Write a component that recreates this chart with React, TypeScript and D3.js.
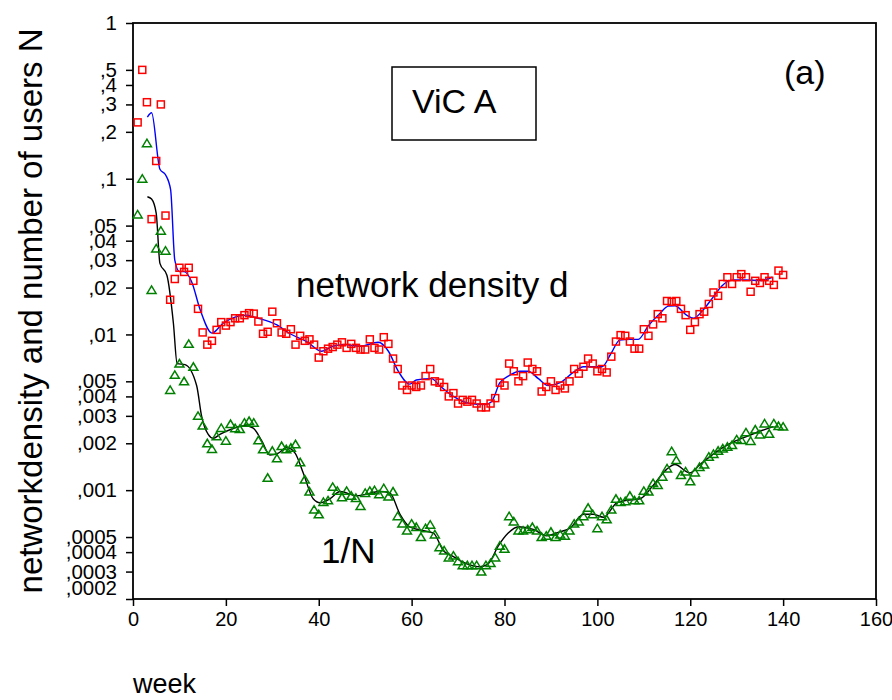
import React, { useEffect, useRef } from 'react';
import * as d3 from 'd3';

// weekly network density d (red squares), weeks 1..140
const densityD: number[] = [
  0.23, 0.5, 0.31, 0.055, 0.13, 0.3, 0.058, 0.0167, 0.0227, 0.0268,
  0.0252, 0.0268, 0.0221, 0.0146, 0.0103, 0.0086, 0.0091, 0.0107, 0.012, 0.0114,
  0.012, 0.0127, 0.0127, 0.0133, 0.0137, 0.0136, 0.0121, 0.0101, 0.0104, 0.014,
  0.0118, 0.0103, 0.0101, 0.0108, 0.0086, 0.0098, 0.0091, 0.0093, 0.0086, 0.0071,
  0.0078, 0.0081, 0.0083, 0.0086, 0.0089, 0.0082, 0.0087, 0.0082, 0.008, 0.008,
  0.0093, 0.0082, 0.008, 0.0096, 0.0087, 0.007, 0.006, 0.0047, 0.0044, 0.0047,
  0.0046, 0.0047, 0.0054, 0.006, 0.005, 0.0049, 0.0046, 0.004, 0.0042, 0.0036,
  0.0038, 0.0037, 0.0038, 0.0036, 0.0034, 0.0034, 0.0036, 0.0039, 0.0049, 0.0047,
  0.0065, 0.0058, 0.005, 0.0054, 0.0066, 0.006, 0.0058, 0.0043, 0.0046, 0.005,
  0.0044, 0.0047, 0.0045, 0.005, 0.006, 0.0056, 0.0062, 0.007, 0.0065, 0.0058,
  0.006, 0.0057, 0.0072, 0.009, 0.0099, 0.0098, 0.009, 0.0081, 0.0081, 0.0108,
  0.0098, 0.0116, 0.0135, 0.0127, 0.0164, 0.0162, 0.0164, 0.0146, 0.0133, 0.0107,
  0.012, 0.0135, 0.014, 0.0157, 0.0186, 0.0177, 0.0211, 0.0233, 0.0211, 0.0233,
  0.0244, 0.0233, 0.0188, 0.0221, 0.0214, 0.0233, 0.0221, 0.0208, 0.0257, 0.0241,
];

// weekly 1/N (green triangles), weeks 1..140
const inverseN: number[] = [
  0.059, 0.1, 0.169, 0.0193, 0.0357, 0.0464, 0.0345, 0.0044, 0.0055, 0.0065,
  0.005, 0.0087, 0.0062, 0.003, 0.0026, 0.002, 0.00184, 0.00222, 0.00251, 0.00208,
  0.00266, 0.0025, 0.00247, 0.00271, 0.00278, 0.00271, 0.00209, 0.00183, 0.0012, 0.00179,
  0.0016, 0.00192, 0.00183, 0.00187, 0.00197, 0.00151, 0.00117, 0.00098, 0.00075, 0.0007,
  0.00084, 0.00086, 0.00105, 0.00099, 0.0009, 0.00099, 0.00092, 0.00089, 0.00079, 0.00096,
  0.00099, 0.001, 0.00094, 0.00103, 0.00091, 0.00098, 0.00068, 0.00061, 0.00055, 0.00061,
  0.00058, 0.0005, 0.00057, 0.0006, 0.00052, 0.00043, 0.00041, 0.00037, 0.00038, 0.00035,
  0.00033, 0.00033, 0.00033, 0.00033, 0.0003, 0.00033, 0.00034, 0.00037, 0.00044, 0.00042,
  0.00068, 0.00063, 0.00055, 0.00055, 0.00056, 0.00058, 0.00055, 0.0005, 0.00051, 0.00054,
  0.0005, 0.00052, 0.00051, 0.00055, 0.00061, 0.00063, 0.00068, 0.00077, 0.0007, 0.00057,
  0.00068, 0.00065, 0.00075, 0.00088, 0.00084, 0.00085, 0.00092, 0.00086, 0.00086, 0.00099,
  0.00098, 0.00111, 0.00108, 0.00122, 0.00138, 0.00178, 0.00156, 0.00125, 0.00132, 0.00114,
  0.0013, 0.00141, 0.00146, 0.00164, 0.00171, 0.00179, 0.00185, 0.0019, 0.00195, 0.00212,
  0.0021, 0.00235, 0.00207, 0.00245, 0.00228, 0.00268, 0.0023, 0.00268, 0.00258, 0.00256,
];

// smoothed density (blue line)
const smoothDWeeks: number[] = [
  3.1, 4, 5.8, 7, 8.1, 9, 10, 11, 12.6, 14.5, 17, 19.4, 24.5, 26.6, 31, 33.8, 37.4, 40.6, 43, 45.3,
  49, 52.8, 55, 57, 59.6, 61, 64.3, 66, 69, 72.6, 75.8, 77.2, 79, 80.8, 83.3, 85.1, 87.3, 89.4, 92,
  94.8, 97, 101, 103, 104.8, 107, 108.8, 111, 113.5, 115.3, 116.7, 119.2, 120.7, 122.8, 125, 126.8,
  129.3, 132, 135, 137.7,
];
const smoothD: number[] = [
  0.249, 0.265, 0.115, 0.106, 0.085, 0.03, 0.0253, 0.0253, 0.0219, 0.0143, 0.0102, 0.0118, 0.0133,
  0.0128, 0.0115, 0.0101, 0.009, 0.0078, 0.0084, 0.0086, 0.0084, 0.0089, 0.0078, 0.0059, 0.0048,
  0.0051, 0.0052, 0.0047, 0.004, 0.0036, 0.00355, 0.0037, 0.0049, 0.0054, 0.0058, 0.0058, 0.0052,
  0.0047, 0.0049, 0.0057, 0.0062, 0.0062, 0.0076, 0.0092, 0.0093, 0.0093, 0.0114, 0.0137, 0.0152,
  0.0153, 0.0133, 0.0127, 0.0144, 0.0175, 0.0205, 0.0224, 0.0224, 0.0222, 0.0233,
];

// smoothed 1/N (black line)
const smoothNWeeks: number[] = [
  3.1, 4, 5, 5.8, 7.3, 8.7, 9.5, 11.2, 13.7, 14.8, 16.2, 17.3, 18.7, 21.6, 24.1, 25.9, 27.7, 29.5,
  31.3, 33.1, 34.9, 36.7, 38.8, 40.3, 42.4, 44.6, 48.2, 53.2, 55.3, 57.5, 59.6, 61.8, 64.7, 66.8, 69,
  71.9, 74.7, 76.5, 78.7, 80.8, 83, 86.2, 89.1, 91.9, 94.1, 97, 99.1, 101.3, 104.2, 106.3, 109.2, 112,
  114.9, 116.7, 119.9, 122.1, 125, 128.6, 132.1, 135, 137.9,
];
const smoothN: number[] = [
  0.0766, 0.074, 0.06, 0.0286, 0.024, 0.0118, 0.0065, 0.0064, 0.0047, 0.00296, 0.00228, 0.00215,
  0.00228, 0.00249, 0.00259, 0.0025, 0.00208, 0.00168, 0.00173, 0.00188, 0.00173, 0.00128, 0.00088,
  0.00083, 0.00088, 0.00098, 0.00092, 0.00098, 0.00096, 0.0007, 0.00058, 0.000555, 0.00053, 0.00041,
  0.000374, 0.000336, 0.000322, 0.000337, 0.00044, 0.00053, 0.000582, 0.00056, 0.00051, 0.00054,
  0.00057, 0.0007, 0.0007, 0.00067, 0.00083, 0.00086, 0.00088, 0.00107, 0.00136, 0.00146, 0.00129,
  0.00146, 0.00171, 0.002, 0.00221, 0.00239, 0.00256,
];

const yTicks: number[] = [
  1, 0.5, 0.4, 0.3, 0.2, 0.1, 0.05, 0.04, 0.03, 0.02, 0.01, 0.005, 0.004, 0.003, 0.002,
  0.001, 0.0005, 0.0004, 0.0003, 0.0002,
];
const xTicks: number[] = [0, 20, 40, 60, 80, 100, 120, 140, 160];

const FONT = '"Liberation Sans", Arial, Helvetica, sans-serif';

const App = () => {
  const svgRef = useRef<SVGSVGElement>(null);
  const width = 892;
  const height = 700;

  useEffect(() => {
    const svg = d3.select(svgRef.current);
    svg.selectAll('*').remove();

    const left = 133, right = 876, top = 23, bottom = 599;

    const x = d3.scaleLinear().domain([0, 160]).range([left, right]);
    const y = d3.scaleLog().domain([0.0002, 1]).range([bottom, top]);

    svg.append('rect')
      .attr('width', width).attr('height', height).attr('fill', '#fff');

    // y axis
    const yAxis = svg.append('g')
      .attr('transform', `translate(${left},0)`)
      .call(d3.axisLeft(y)
        .tickValues(yTicks)
        .tickSize(7)
        .tickPadding(9)
        .tickFormat(d => (+d === 1 ? '1' : String(d).replace('0.', ','))));
    yAxis.select('.domain').remove();
    yAxis.selectAll('line').attr('stroke', '#000').attr('stroke-width', 1.5);
    yAxis.selectAll('text')
      .attr('font-family', FONT).attr('font-size', 20.5).attr('fill', '#000')
      .attr('dy', (d: any) => (d === 0.0002 ? '-0.22em' : '0.32em'));

    // x axis
    const xAxis = svg.append('g')
      .attr('transform', `translate(0,${bottom})`)
      .call(d3.axisBottom(x).tickValues(xTicks).tickSize(7).tickPadding(6).tickFormat(d3.format('d')));
    xAxis.select('.domain').remove();
    xAxis.selectAll('line').attr('stroke', '#000').attr('stroke-width', 1.5);
    xAxis.selectAll('text')
      .attr('font-family', FONT).attr('font-size', 20).attr('fill', '#000');

    // frame
    svg.append('rect')
      .attr('x', left).attr('y', top)
      .attr('width', right - left).attr('height', bottom - top)
      .attr('fill', 'none').attr('stroke', '#000').attr('stroke-width', 1.8);

    // smoothed lines
    const lineN = d3.line<number>()
      .x((_, i) => x(smoothNWeeks[i]))
      .y(d => y(d))
      .curve(d3.curveMonotoneX);
    svg.append('path')
      .datum(smoothN)
      .attr('fill', 'none').attr('stroke', '#000').attr('stroke-width', 1.4)
      .attr('d', lineN);

    const lineD = d3.line<number>()
      .x((_, i) => x(smoothDWeeks[i]))
      .y(d => y(d))
      .curve(d3.curveMonotoneX);
    svg.append('path')
      .datum(smoothD)
      .attr('fill', 'none').attr('stroke', '#0000ff').attr('stroke-width', 1.4)
      .attr('d', lineD);

    // triangles for 1/N
    svg.append('g')
      .selectAll('path')
      .data(inverseN)
      .join('path')
      .attr('d', (d, i) => {
        const cx = x(i + 1), cy = y(d);
        return `M${cx - 4.5},${cy + 3.5}L${cx + 4.5},${cy + 3.5}L${cx},${cy - 4}Z`;
      })
      .attr('fill', 'none').attr('stroke', '#008000').attr('stroke-width', 1.5);

    // squares for density
    svg.append('g')
      .selectAll('rect')
      .data(densityD)
      .join('rect')
      .attr('x', (_, i) => x(i + 1) - 3.5)
      .attr('y', d => y(d) - 3.5)
      .attr('width', 7).attr('height', 7)
      .attr('fill', 'none').attr('stroke', '#ff0000').attr('stroke-width', 1.5);

    // annotations
    svg.append('rect')
      .attr('x', 392).attr('y', 67).attr('width', 144).attr('height', 73)
      .attr('fill', '#fff').attr('stroke', '#000').attr('stroke-width', 1.5);
    svg.append('text')
      .attr('x', 412).attr('y', 113)
      .attr('font-family', FONT).attr('font-size', 34)
      .text('ViC A');

    svg.append('text')
      .attr('x', 784).attr('y', 84)
      .attr('font-family', FONT).attr('font-size', 34)
      .text('(a)');

    svg.append('text')
      .attr('x', 296).attr('y', 297)
      .attr('font-family', FONT).attr('font-size', 35)
      .text('network density d');

    svg.append('text')
      .attr('x', 321).attr('y', 563)
      .attr('font-family', FONT).attr('font-size', 35)
      .text('1/N');

    // axis titles
    svg.append('text')
      .attr('x', 133).attr('y', 693)
      .attr('font-family', FONT).attr('font-size', 27)
      .text('week');

    svg.append('text')
      .attr('transform', `translate(42,${(top + bottom) / 2}) rotate(-90)`)
      .attr('text-anchor', 'middle')
      .attr('font-family', FONT).attr('font-size', 33)
      .text('networkdensity and number of users N');
  }, []);

  return (
    <svg
      ref={svgRef}
      width={width}
      height={height}
      style={{ position: 'absolute', left: 0, top: 0 }}
    />
  );
};

export default App;
